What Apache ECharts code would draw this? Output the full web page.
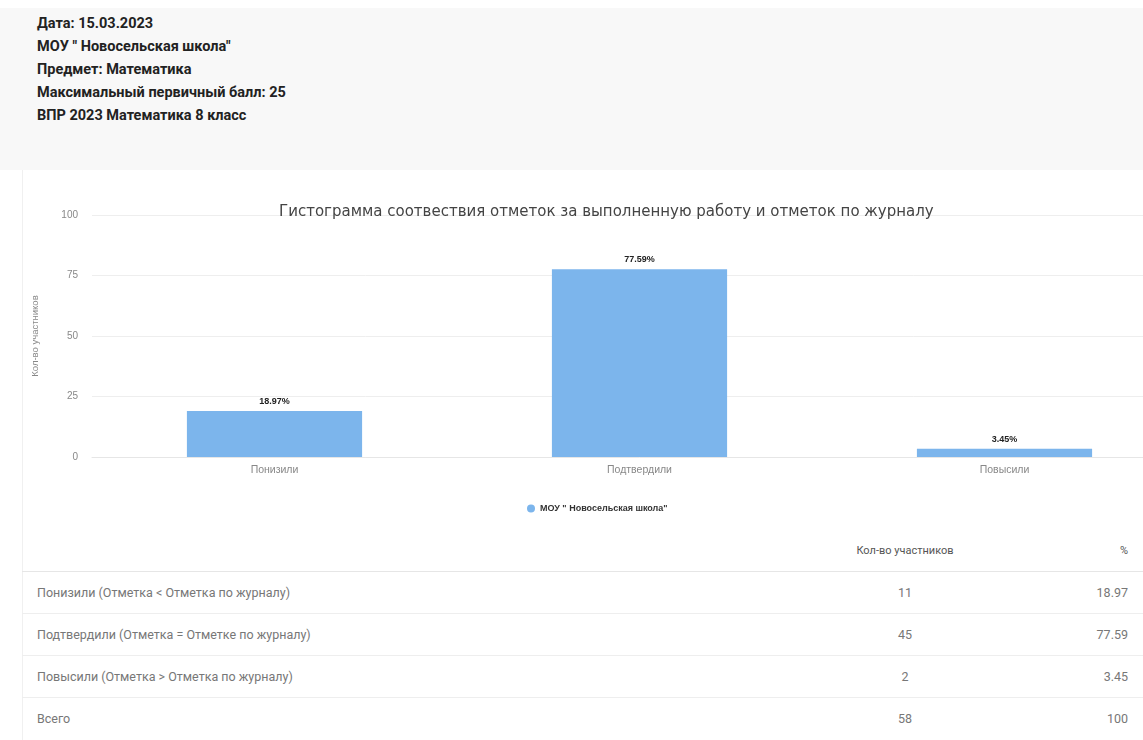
<!DOCTYPE html>
<html>
<head>
<meta charset="utf-8">
<script src="https://cdn.jsdelivr.net/npm/echarts@6/dist/echarts.min.js"></script>
<style>
  html, body { margin: 0; padding: 0; width: 1143px; height: 740px; overflow: hidden; background: #fff; font-family: Roboto, "Noto Sans", sans-serif; }
  .head { position: absolute; left: 0; top: 8px; width: 1143px; height: 162px; background: #f8f8f8; }
  .head div { position: absolute; left: 37px; font-size: 14.5px; font-weight: bold; color: #222; line-height: 18px; }
  .card { position: absolute; left: 22px; top: 170px; width: 1121px; height: 570px; background: #fff; border-left: 1px solid #f0f0f0; }
  #chart { position: absolute; left: 22px; top: 185px; width: 1180px; height: 340px; }
  table { position: absolute; left: 22px; top: 530px; width: 1121px; border-collapse: collapse; font-size: 12.5px; color: #777; }
  td { height: 41px; border-bottom: 1px solid #eee; padding: 0; }
  tr.hd td { border-bottom: 1px solid #e6e6e6; color: #555; font-size: 11px; }
  td.c1 { width: 783px; padding-left: 15px; }
  td.c2 { width: 170px; text-align: center; }
  td.c3 { text-align: right; padding-right: 15px; }
  tr:last-child td { border-bottom: none; }
</style>
</head>
<body>
<div class="head">
  <div style="top:7px">Дата: 15.03.2023</div>
  <div style="top:30px">МОУ " Новосельская школа"</div>
  <div style="top:53px">Предмет: Математика</div>
  <div style="top:76px">Максимальный первичный балл: 25</div>
  <div style="top:99px">ВПР 2023 Математика 8 класс</div>
</div>
<div class="card"></div>
<div id="chart"></div>
<table id="tbl"></table>
<script>
const categories = ["Понизили", "Подтвердили", "Повысили"];
const percents = [18.97, 77.59, 3.45];
const seriesName = 'МОУ " Новосельская школа"';
const yTicks = [0, 25, 50, 75, 100];

const rowNames = [
  "Понизили (Отметка < Отметка по журналу)",
  "Подтвердили (Отметка = Отметке по журналу)",
  "Повысили (Отметка > Отметка по журналу)",
  "Всего"
];
const counts = [11, 45, 2, 58];
const rowPercents = ["18.97", "77.59", "3.45", "100"];

// table under the chart
let html = '<tr class="hd"><td class="c1"></td><td class="c2">Кол-во участников</td><td class="c3">%</td></tr>';
rowNames.forEach((n, i) => {
  html += '<tr><td class="c1">' + n + '</td><td class="c2">' + counts[i] + '</td><td class="c3">' + rowPercents[i] + '</td></tr>';
});
document.getElementById("tbl").innerHTML = html;

const chart = echarts.init(document.getElementById("chart"));
chart.setOption({
  animation: false,
  title: {
    text: "Гистограмма соотвествия отметок за выполненную работу и отметок по журналу",
    left: 252,
    top: 15,
    textStyle: { fontSize: 15, fontWeight: "normal", color: "#444", fontFamily: "DejaVu Sans" }
  },
  legend: {
    data: [seriesName],
    top: 314,
    left: 500,
    icon: "circle",
    itemWidth: 8,
    itemHeight: 8,
    textStyle: { fontSize: 9, fontWeight: "bold", color: "#333" }
  },
  grid: { left: 70, right: 15, top: 30, bottom: 68 },
  xAxis: {
    type: "category",
    data: categories,
    axisTick: { show: false },
    axisLine: { lineStyle: { color: "#e6e6e6" } },
    axisLabel: { fontSize: 10.5, color: "#888", margin: 8 }
  },
  yAxis: {
    type: "value",
    min: yTicks[0],
    max: yTicks[yTicks.length - 1],
    interval: 25,
    name: "Кол-во участников",
    nameLocation: "middle",
    nameGap: 52,
    nameTextStyle: { fontSize: 9.5, color: "#888" },
    axisLabel: { fontSize: 10, color: "#888", margin: 14 },
    splitLine: { lineStyle: { color: "#eee" } }
  },
  series: [{
    name: seriesName,
    type: "bar",
    data: percents,
    barWidth: "48%",
    itemStyle: { color: "#7cb5ec" },
    label: {
      show: true,
      position: "top",
      formatter: p => p.value + "%",
      fontSize: 9,
      fontWeight: "bold",
      color: "#222"
    }
  }]
});
</script>
</body>
</html>
